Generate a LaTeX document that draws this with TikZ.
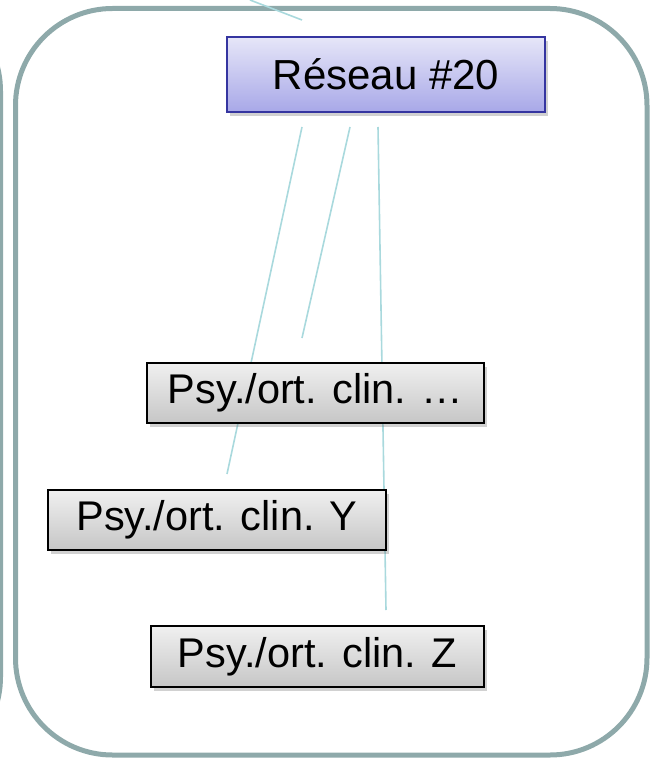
\documentclass[tikz,border=0pt]{standalone}
\usepackage{fontspec}
\setmainfont{Liberation Sans}
\usetikzlibrary{shadows}
\definecolor{frameC}{HTML}{8EA9AA}
\definecolor{linkC}{HTML}{A9D9DD}
\definecolor{blueTop}{HTML}{E6E6F8}
\definecolor{blueBot}{HTML}{A8A8E8}
\definecolor{blueBord}{HTML}{3535A0}
\definecolor{grayTop}{HTML}{F0F0F0}
\definecolor{grayBot}{HTML}{C6C6C6}
\tikzset{
  frame/.style={draw=frameC, line width=5pt, rounded corners=97pt},
  link/.style={draw=linkC, line width=1.6pt},
  netbox/.style={draw=blueBord, line width=1.8pt, top color=blueTop, bottom color=blueBot,
    minimum width=318pt, minimum height=75pt, inner sep=0pt,
    font=\fontsize{42}{48}\selectfont,
    drop shadow={shadow xshift=3pt, shadow yshift=-4pt, opacity=0.3, fill=black!60}},
  clinbox/.style={draw=black, line width=1.6pt, top color=grayTop, bottom color=grayBot,
    minimum height=60pt, inner sep=0pt,
    font=\fontsize{41.5}{48}\selectfont,
    drop shadow={shadow xshift=3pt, shadow yshift=-4pt, opacity=0.3, fill=black!60}}
}
\begin{document}
\begin{tikzpicture}[x=1pt,y=-1pt]
\useasboundingbox (0,0) rectangle (650,762);
% neighbour frame (partially visible on the left)
\draw[frame] (-400,-6) rectangle (0.5,774);
% main frame
\draw[frame] (15.5,8.5) rectangle (647,755);
% link end points
\coordinate (t0) at (250,0);
\coordinate (t1) at (302,20);
\coordinate (a0) at (302,127);
\coordinate (a1) at (227,474);
\coordinate (b0) at (350,127);
\coordinate (b1) at (302,338);
\coordinate (c0) at (378,127);
\coordinate (c1) at (386,610);
\draw[link] (t0) -- (t1);
\draw[link] (a0) -- (a1);
\draw[link] (b0) -- (b1);
\draw[link] (c0) -- (c1);
% nodes
\node[netbox] (net) at (386,74.5) {Réseau \#20};
\node[clinbox, minimum width=337pt] (cdots) at (315.5,393) {Psy./ort. clin. …};
\node[clinbox, minimum width=338pt] (cy) at (217,520) {Psy./ort. clin. Y};
\node[clinbox, minimum width=333pt, minimum height=61pt] (cz) at (317.5,656.5) {Psy./ort. clin. Z};
\end{tikzpicture}
\end{document}
